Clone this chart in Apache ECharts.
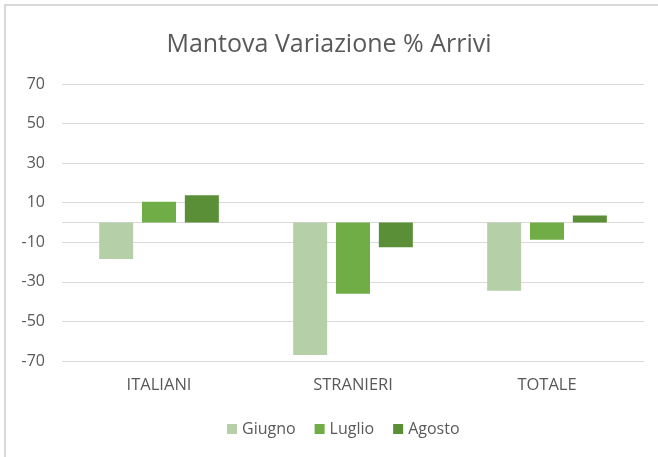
<!DOCTYPE html>
<html>
<head>
<meta charset="utf-8">
<script src="https://cdn.jsdelivr.net/npm/echarts@6/dist/echarts.min.js"></script>
<style>
  html, body { margin: 0; padding: 0; background: #fff; }
  #chart { width: 658px; height: 457px; }
</style>
</head>
<body>
<div id="chart"></div>
<script>
const categories = ['ITALIANI', 'STRANIERI', 'TOTALE']
const giugno = [-18.5, -67, -34.5]
const luglio = [10.5, -36, -8.7]
const agosto = [13.8, -12.5, 3.5]
const yLabels = [-70, -50, -30, -10, 10, 30, 50, 70]
const yLines = [-70, -50, -30, -10, 0, 10, 30, 50, 70]

const textColor = '#595959'
const font = '"Open Sans", "Noto Sans", sans-serif'

const chart = echarts.init(document.getElementById('chart'))

const bar = (name, data, color) => ({
  name,
  type: 'bar',
  data,
  barWidth: 34,
  barGap: '26%',
  itemStyle: { color },
})

chart.setOption({
  animation: false,
  graphic: [{
    type: 'rect',
    shape: { x: 5, y: 5, width: 700, height: 500 },
    style: { fill: 'none', stroke: '#d9d9d9', lineWidth: 2 },
    silent: true,
  }],
  title: {
    text: 'Mantova Variazione % Arrivi',
    left: 'center',
    top: 27,
    textStyle: { color: textColor, fontFamily: font, fontSize: 25, fontWeight: 'normal' },
  },
  legend: {
    bottom: 15,
    left: 222,
    itemWidth: 10,
    itemHeight: 10,
    itemGap: 19,
    icon: 'rect',
    textStyle: { color: textColor, fontFamily: font, fontSize: 16 },
    data: ['Giugno', 'Luglio', 'Agosto'],
  },
  grid: { left: 62, right: 14, top: 84, bottom: 96 },
  xAxis: {
    type: 'category',
    data: categories,
    axisLine: { show: false },
    axisTick: { show: false },
    axisLabel: { color: textColor, fontFamily: font, fontSize: 16.5, margin: 16 },
  },
  yAxis: {
    type: 'value',
    min: -70,
    max: 70,
    axisLine: { show: false },
    axisTick: { show: false, customValues: yLines },
    axisLabel: { color: textColor, fontFamily: font, fontSize: 16, margin: 17, customValues: yLabels },
    splitLine: { lineStyle: { color: '#d9d9d9', width: 1 } },
  },
  series: [
    bar('Giugno', giugno, '#b5cfa8'),
    bar('Luglio', luglio, '#70ad47'),
    bar('Agosto', agosto, '#5a8f37'),
  ],
})
</script>
</body>
</html>
